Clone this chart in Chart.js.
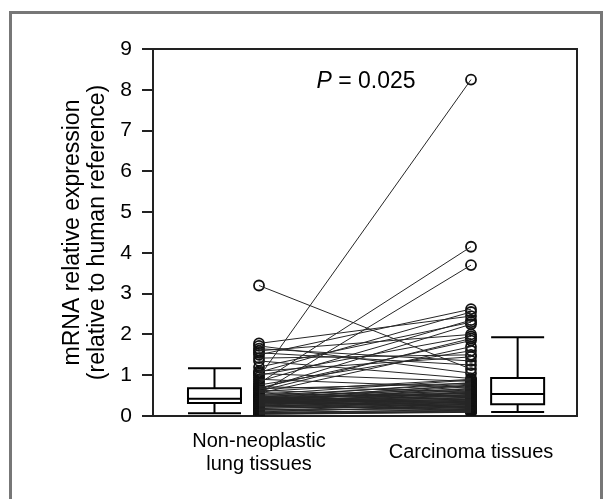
<!DOCTYPE html>
<html>
<head>
<meta charset="utf-8">
<script src="https://cdn.jsdelivr.net/npm/chart.js@4.4.0/dist/chart.umd.min.js"></script>
<style>
  html, body { margin: 0; padding: 0; background: #fff; }
  body { width: 603px; height: 499px; overflow: hidden; position: relative; }
  #frame { position: absolute; left: 9px; top: 11px; width: 588px; height: 600px; border: 3px solid #777; border-bottom: none; }
  #wrap { position: absolute; left: 0; top: 0; width: 603px; height: 499px; }
</style>
</head>
<body>
<div id="frame"></div>
<div id="wrap"><canvas id="chart" width="603" height="499"></canvas></div>
<script>
// paired samples: nonNeoplastic[i] and carcinoma[i] belong to the same patient
const nonNeoplastic = [
  3.2, 1.78, 1.72, 1.65, 1.6, 1.55, 1.5, 1.42, 1.35, 1.2, 1.1, 1.07, 1.04, 1.0, 0.95, 0.9,
  0.85, 0.8, 0.76, 0.72, 0.69, 0.67, 0.65, 0.63, 0.61, 0.6, 0.58, 0.56, 0.55, 0.53, 0.52, 0.5,
  0.49, 0.48, 0.47, 0.46, 0.45, 0.44, 0.44, 0.43, 0.42, 0.42, 0.41, 0.41, 0.4, 0.4, 0.39, 0.39,
  0.38, 0.38, 0.37, 0.37, 0.36, 0.36, 0.35, 0.35, 0.34, 0.34, 0.33, 0.33, 0.33, 0.32, 0.32, 0.31,
  0.3, 0.29, 0.28, 0.27, 0.26, 0.25, 0.24, 0.22, 0.2, 0.18, 0.16, 0.14, 0.12, 0.1, 0.09, 0.08,
  0.07, 0.06, 0.05, 0.04
];
const carcinoma = [
  1.15, 2.45, 1.05, 1.35, 2.0, 1.25, 2.62, 1.5, 0.92, 2.3, 1.45, 2.55, 0.85, 1.95, 8.25, 0.7,
  2.35, 4.15, 1.6, 0.6, 1.85, 0.8, 2.25, 0.45, 1.9, 0.9, 0.38, 1.7, 3.7, 0.88, 0.5, 0.78,
  0.3, 0.66, 0.22, 0.82, 0.55, 0.74, 0.35, 0.62, 0.28, 0.59, 0.42, 0.76, 0.2, 0.57, 0.48, 0.64,
  0.33, 0.72, 0.18, 0.53, 0.4, 0.68, 0.26, 0.56, 0.44, 0.58, 0.15, 0.49, 0.37, 0.52, 0.24, 0.46,
  0.32, 0.41, 0.13, 0.39, 0.27, 0.36, 0.19, 0.34, 0.23, 0.31, 0.17, 0.29, 0.21, 0.25, 0.14, 0.16,
  0.12, 0.11, 0.1, 0.09
];
// box stats: 10th pct, Q1, median, Q3, 90th pct
const nonNeoBox = [0.07, 0.32, 0.42, 0.68, 1.17];
const carcinomaBox = [0.1, 0.29, 0.54, 0.93, 1.93];
const groupLabels = [["Non-neoplastic", "lung tissues"], "Carcinoma tissues"];
const yTicks = [0, 1, 2, 3, 4, 5, 6, 7, 8, 9];
const pText = "0.025";

const FONT = "'Liberation Sans', Arial, sans-serif";

const pairLines = nonNeoplastic.map((v, i) => ({
  type: "line",
  data: [{ x: 1, y: v }, { x: 2, y: carcinoma[i] }],
  borderColor: "#262626",
  borderWidth: 1,
  pointRadius: 0,
  showLine: true,
  fill: false,
}));

const pointStyle = {
  type: "scatter",
  pointRadius: 5,
  pointStyle: "circle",
  borderColor: "#111",
  backgroundColor: "rgba(255,255,255,0)",
  borderWidth: 1.8,
};

const framePlugin = {
  id: "frame",
  afterDraw(chart) {
    const { ctx, chartArea: a } = chart;
    ctx.save();
    ctx.strokeStyle = "#222";
    ctx.lineWidth = 2;
    ctx.beginPath();
    ctx.moveTo(a.left, a.top);
    ctx.lineTo(a.right, a.top);
    ctx.lineTo(a.right, a.bottom);
    ctx.stroke();
    ctx.restore();
  },
};

const boxPlugin = {
  id: "boxes",
  afterDatasetsDraw(chart, args, opts) {
    const { ctx, scales: { x, y } } = chart;
    ctx.save();
    ctx.strokeStyle = "#000";
    ctx.lineWidth = 2;
    [nonNeoBox, carcinomaBox].forEach((b, i) => {
      const cx = opts.centers[i];
      const l = x.getPixelForValue(cx - opts.width / 2);
      const r = x.getPixelForValue(cx + opts.width / 2);
      const m = x.getPixelForValue(cx);
      const [lo, q1, med, q3, hi] = b.map((v) => y.getPixelForValue(v));
      ctx.beginPath();
      ctx.rect(l, q3, r - l, q1 - q3);
      ctx.moveTo(l, med); ctx.lineTo(r, med);
      ctx.moveTo(m, q3); ctx.lineTo(m, hi);
      ctx.moveTo(m, q1); ctx.lineTo(m, lo);
      ctx.moveTo(l, hi); ctx.lineTo(r, hi);
      ctx.moveTo(l, lo); ctx.lineTo(r, lo);
      ctx.stroke();
    });
    // P value
    const px = x.getPixelForValue(opts.pAt[0]);
    const py = y.getPixelForValue(opts.pAt[1]);
    ctx.fillStyle = "#000";
    ctx.textBaseline = "middle";
    ctx.font = "italic 23px " + FONT;
    const w1 = ctx.measureText("P").width;
    ctx.font = "23px " + FONT;
    const rest = " = " + pText;
    const w2 = ctx.measureText(rest).width;
    const sx = px - (w1 + w2) / 2;
    ctx.font = "italic 23px " + FONT;
    ctx.textAlign = "left";
    ctx.fillText("P", sx, py);
    ctx.font = "23px " + FONT;
    ctx.fillText(rest, sx + w1, py);
    ctx.restore();
  },
};

new Chart(document.getElementById("chart").getContext("2d"), {
  type: "scatter",
  data: {
    datasets: [
      ...pairLines,
      { ...pointStyle, data: nonNeoplastic.map((v) => ({ x: 1, y: v })) },
      { ...pointStyle, data: carcinoma.map((v) => ({ x: 2, y: v })) },
    ],
  },
  options: {
    responsive: false,
    animation: false,
    devicePixelRatio: 1,
    layout: { padding: { left: 61, top: 49, right: 26, bottom: 13 } },
    plugins: {
      legend: { display: false },
      tooltip: { enabled: false },
      boxes: { centers: [0.79, 2.22], width: 0.25, pAt: [1.505, 8.2] },
    },
    scales: {
      x: {
        type: "linear",
        min: 0.5,
        max: 2.5,
        afterBuildTicks: (s) => { s.ticks = [{ value: 1 }, { value: 2 }]; },
        afterFit: (s) => { s.height = 70; },
        grid: { display: false, drawTicks: false },
        border: { display: true, color: "#222", width: 2 },
        ticks: {
          padding: 25,
          crossAlign: "center",
          maxRotation: 0,
          color: "#000",
          font: { family: FONT, size: 20, lineHeight: 1.18 },
          callback: (v) => (v === 1 ? groupLabels[0] : v === 2 ? groupLabels[1] : ""),
        },
      },
      y: {
        min: 0,
        max: 9,
        afterBuildTicks: (s) => { s.ticks = yTicks.map((v) => ({ value: v })); },
        afterFit: (s) => { s.width = 92; },
        grid: { drawOnChartArea: false, drawTicks: true, tickLength: 11, color: "#222", lineWidth: 2 },
        border: { display: true, color: "#222", width: 2 },
        ticks: { padding: 10, color: "#000", font: { family: FONT, size: 21 } },
        title: {
          display: true,
          text: ["mRNA relative expression", "(relative to human reference)"],
          color: "#000",
          font: { family: FONT, size: 23, lineHeight: 1.05 },
          padding: { top: 0, bottom: 0 },
        },
      },
    },
  },
  plugins: [framePlugin, boxPlugin],
});
</script>
</body>
</html>
